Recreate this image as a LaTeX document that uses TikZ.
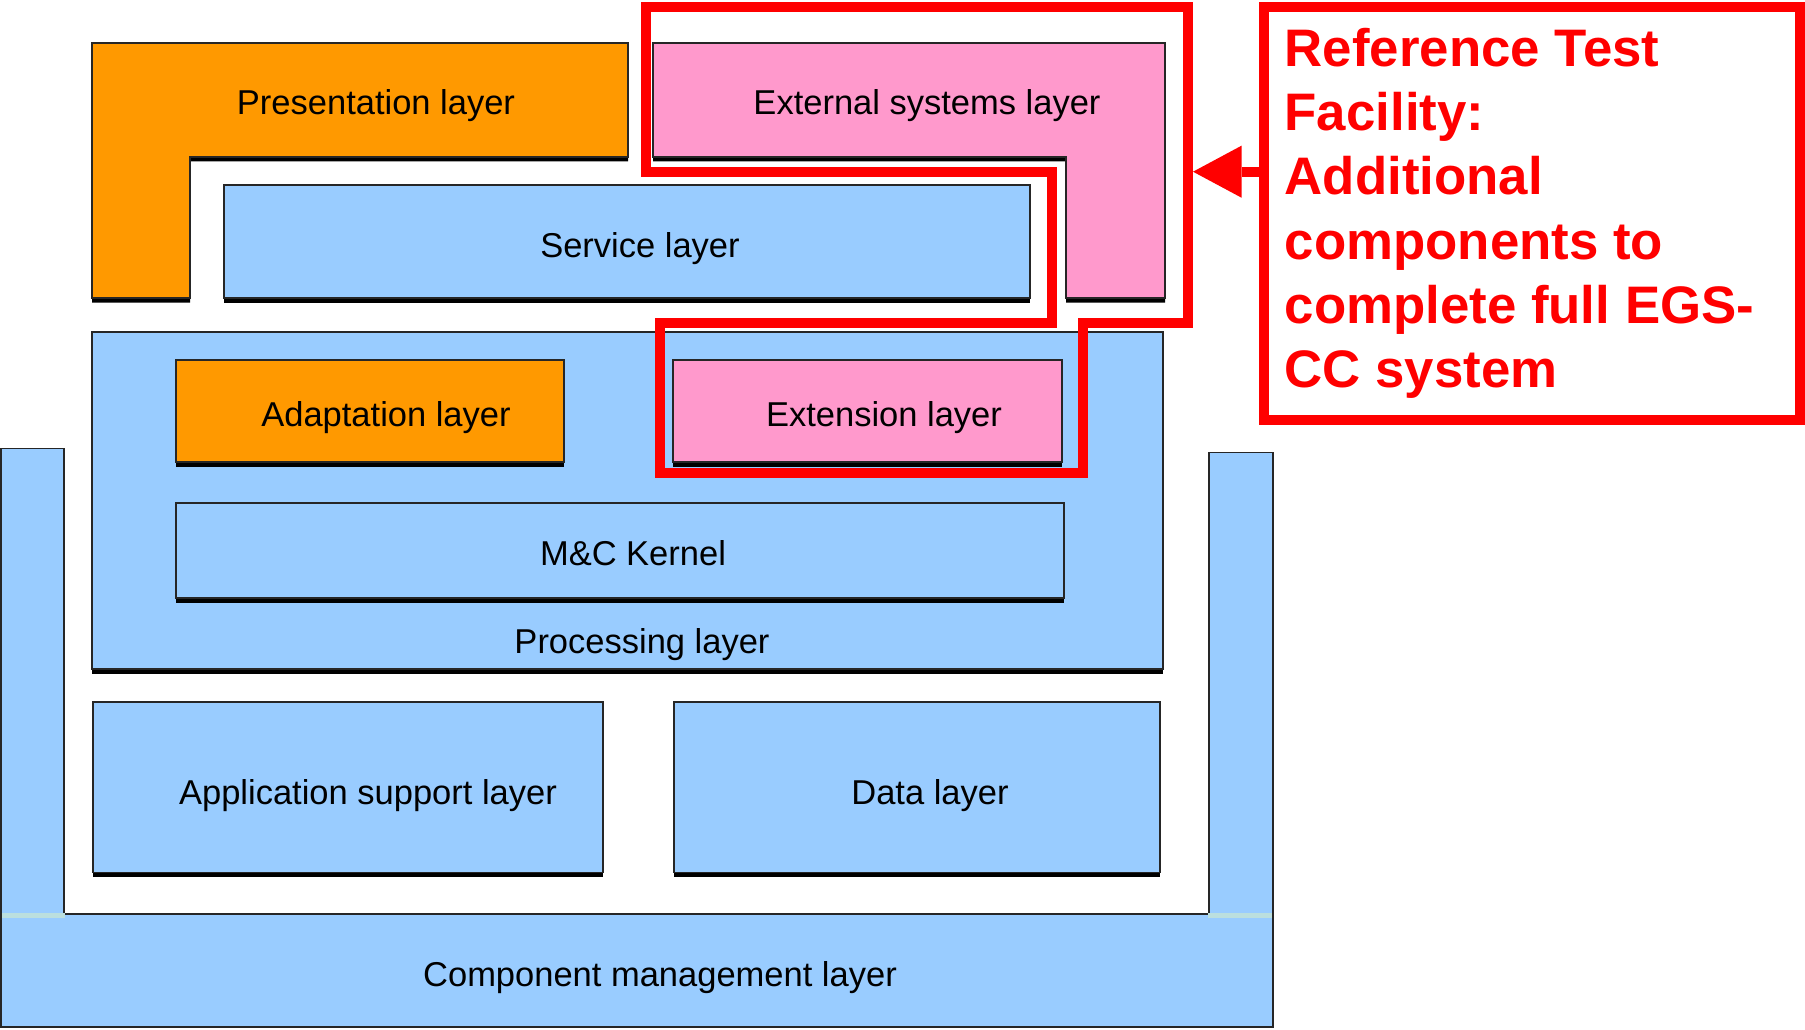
\documentclass[tikz,border=0pt]{standalone}
\usepackage{fontspec}
\setmainfont{Liberation Sans}
\usetikzlibrary{shadows,arrows.meta}
\definecolor{layerorange}{HTML}{FF9900}
\definecolor{layerpink}{HTML}{FF99CC}
\definecolor{layerblue}{HTML}{99CCFF}
\definecolor{seam}{HTML}{BBDFDF}
\definecolor{callred}{HTML}{FF0000}

\begin{document}
\begin{tikzpicture}[x=1pt,y=-1pt,
  layerbox/.style={draw=black!85, line width=1.5pt,
    drop shadow={shadow xshift=0pt, shadow yshift=-4.5pt, opacity=1, fill=black}},
  plainbox/.style={draw=black!85, line width=1.5pt, fill=layerblue},
  lbl/.style={font=\fontsize{34.5}{41}\selectfont, anchor=base, inner sep=0pt},
  redframe/.style={draw=callred, line width=10pt, line join=miter},
]
\useasboundingbox (0,0) rectangle (1805,1030);

% component management layer: base bar and two side columns
\draw[plainbox] (1,914) rectangle (1273,1027);
\draw[plainbox] (1,448.4) rectangle (64,915);
\draw[plainbox] (1209,452.3) rectangle (1273,915);
\draw[seam, line width=5pt] (1.75,915) -- (64.75,915);
\draw[seam, line width=5pt] (1208.25,915) -- (1272.25,915);

% upper layers
\draw[layerbox, fill=layerorange] (92,43) -- (628,43) -- (628,157) -- (190,157) -- (190,298) -- (92,298) -- cycle;
\draw[layerbox, fill=layerpink] (653,43) -- (1165,43) -- (1165,298) -- (1066,298) -- (1066,157) -- (653,157) -- cycle;
\draw[layerbox, fill=layerblue] (224,185) rectangle (1030,298);

% processing layer and its contents
\draw[layerbox, fill=layerblue] (92,332) rectangle (1163,669);
\draw[layerbox, fill=layerorange] (176,360) rectangle (564,462);
\draw[layerbox, fill=layerpink] (673,360) rectangle (1062,462);
\draw[layerbox, fill=layerblue] (176,503) rectangle (1064,598);

% lower layers
\draw[layerbox, fill=layerblue] (93,702) rectangle (603,872.5);
\draw[layerbox, fill=layerblue] (674,702) rectangle (1160,872.5);

% layer names
\node[lbl] (presentation) at (376,115) {Presentation layer};
\node[lbl] (external) at (927,115) {External systems layer};
\node[lbl] (service) at (640,257) {Service layer};
\node[lbl] (adaptation) at (386,426) {Adaptation layer};
\node[lbl] (extension) at (884,426) {Extension layer};
\node[lbl] (kernel) at (633,565) {M\&C Kernel};
\node[lbl] (processing) at (642,653) {Processing layer};
\node[lbl] (appsupport) at (368,804) {Application support layer};
\node[lbl] (data) at (930,804) {Data layer};
\node[lbl] (compmgmt) at (660,986) {Component management layer};

% highlight around the additional components
\draw[redframe] (645.5,6.7) -- (1188,6.7) -- (1188,323) -- (1082.5,323) -- (1082.5,473)
  -- (660,473) -- (660,323) -- (1052,323) -- (1052,171.7) -- (645.5,171.7) -- cycle;

% callout box with its pointer (text anchored on its last baseline)
\node[draw=callred, line width=10pt, minimum width=536.5pt, minimum height=413.3pt, inner sep=0pt]
  (note) at (1531.75,213.35) {};
\node[anchor=base west, align=left, text=callred, inner sep=0pt,
  font=\bfseries\fontsize{52.8}{64.1}\selectfont] (notetext) at (1284.5,387.2)
  {Reference Test\\Facility:\\Additional\\components to\\complete full EGS-\\CC system};
\coordinate (tip) at (1193,171.7);
\draw[callred, line width=10pt, -{Triangle[length=48.5pt, width=52pt, line width=0pt]}]
  (note.west |- tip) -- (tip);
\end{tikzpicture}
\end{document}
